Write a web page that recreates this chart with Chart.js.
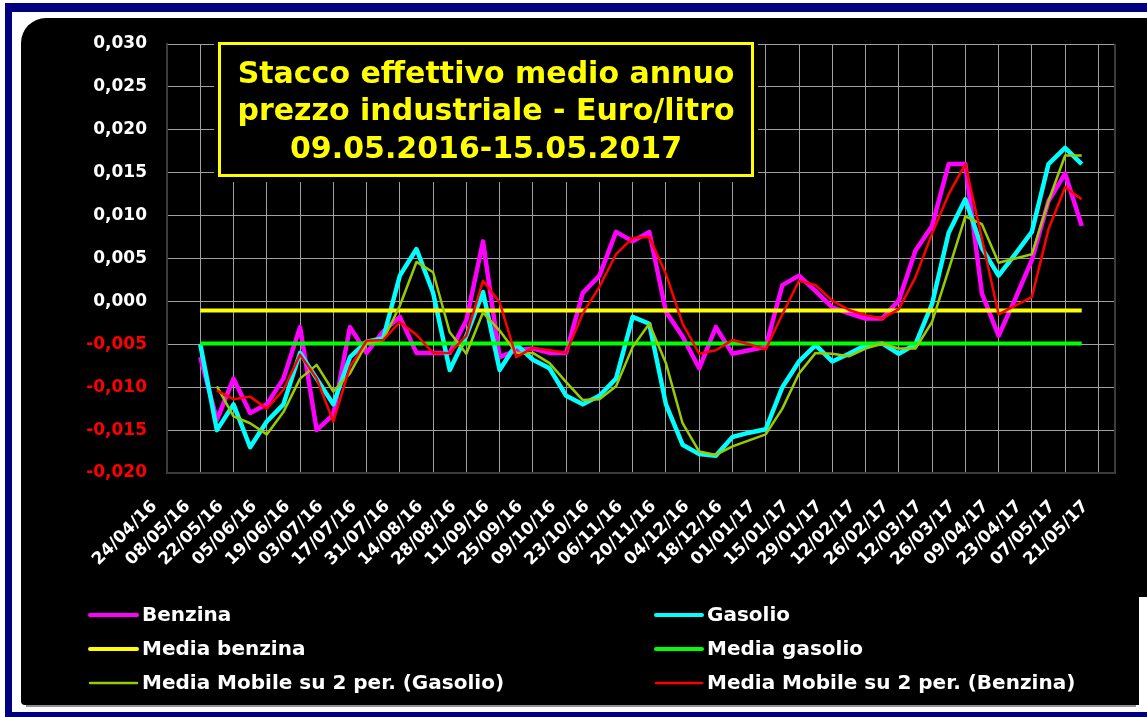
<!DOCTYPE html>
<html>
<head>
<meta charset="utf-8">
<script src="https://cdn.jsdelivr.net/npm/chart.js@4"></script>
<style>
  html, body { margin: 0; padding: 0; background: #fff; }
  canvas { display: block; }
</style>
</head>
<body>
<canvas id="myChart" width="1147" height="717"></canvas>
<script>
// settimane (domenica) sull'asse x, 24/04/16 .. 28/05/17
const weeks = [
  "24/04/16", "01/05/16", "08/05/16", "15/05/16", "22/05/16", "29/05/16",
  "05/06/16", "12/06/16", "19/06/16", "26/06/16", "03/07/16", "10/07/16",
  "17/07/16", "24/07/16", "31/07/16", "07/08/16", "14/08/16", "21/08/16",
  "28/08/16", "04/09/16", "11/09/16", "18/09/16", "25/09/16", "02/10/16",
  "09/10/16", "16/10/16", "23/10/16", "30/10/16", "06/11/16", "13/11/16",
  "20/11/16", "27/11/16", "04/12/16", "11/12/16", "18/12/16", "25/12/16",
  "01/01/17", "08/01/17", "15/01/17", "22/01/17", "29/01/17", "05/02/17",
  "12/02/17", "19/02/17", "26/02/17", "05/03/17", "12/03/17", "19/03/17",
  "26/03/17", "02/04/17", "09/04/17", "16/04/17", "23/04/17", "30/04/17",
  "07/05/17", "14/05/17", "21/05/17", "28/05/17"
];
// i dati partono dalla settimana 08/05/16 (indice 2)
const firstWeek = 2;

const benzina = [
  -0.0065, -0.0138, -0.0090, -0.0130, -0.0120, -0.0090, -0.0030, -0.0150, -0.0132, -0.0030,
  -0.0060, -0.0035, -0.0018, -0.0060, -0.0060, -0.0060, -0.0022, 0.0070, -0.0065, -0.0057,
  -0.0055, -0.0060, -0.0060, 0.0010, 0.0030, 0.0081, 0.0070, 0.0081, -0.0012, -0.0041,
  -0.0078, -0.0030, -0.0061, -0.0057, -0.0053, 0.0019, 0.0030, 0.0012, -0.0007, -0.0014,
  -0.0020, -0.0020, 0.0001, 0.0059, 0.0088, 0.0160, 0.0160, 0.0009, -0.0040, 0.0003,
  0.0048, 0.0117, 0.0149, 0.0088
];
const gasolio = [
  -0.0050, -0.0150, -0.0120, -0.0170, -0.0140, -0.0120, -0.0060, -0.0090, -0.0120, -0.0065,
  -0.0047, -0.0043, 0.0030, 0.0061, 0.0010, -0.0080, -0.0040, 0.0011, -0.0080, -0.0050,
  -0.0068, -0.0078, -0.0110, -0.0120, -0.0110, -0.0090, -0.0018, -0.0026, -0.0120, -0.0167,
  -0.0178, -0.0180, -0.0158, -0.0153, -0.0149, -0.0100, -0.0070, -0.0051, -0.0070, -0.0061,
  -0.0051, -0.0049, -0.0061, -0.0050, -0.0003, 0.0080, 0.0119, 0.0062, 0.0030, 0.0055,
  0.0081, 0.0160, 0.0179, 0.0160
];
const mmGasolio = [
  null, -0.0099, -0.0134, -0.0142, -0.0155, -0.0129, -0.0090, -0.0074, -0.0105, -0.0084,
  -0.0049, -0.0045, -0.0005, 0.0046, 0.0034, -0.0036, -0.0061, -0.0013, -0.0034, -0.0060,
  -0.0060, -0.0072, -0.0094, -0.0115, -0.0114, -0.0099, -0.0053, -0.0026, -0.0072, -0.0142,
  -0.0175, -0.0179, -0.0169, -0.0162, -0.0155, -0.0125, -0.0084, -0.0060, -0.0061, -0.0064,
  -0.0055, -0.0049, -0.0055, -0.0055, -0.0024, 0.0037, 0.0099, 0.0090, 0.0045, 0.0050,
  0.0055, 0.0117, 0.0170, 0.0170
];
const mmBenzina = [
  null, -0.0104, -0.0114, -0.0111, -0.0125, -0.0103, -0.0062, -0.0090, -0.0140, -0.0076,
  -0.0046, -0.0045, -0.0024, -0.0039, -0.0060, -0.0060, -0.0040, 0.0024, -0.0001, -0.0065,
  -0.0054, -0.0057, -0.0060, -0.0014, 0.0017, 0.0055, 0.0074, 0.0075, 0.0032, -0.0026,
  -0.0061, -0.0057, -0.0045, -0.0050, -0.0056, -0.0015, 0.0024, 0.0019, 0.0001, -0.0010,
  -0.0016, -0.0020, -0.0009, 0.0028, 0.0079, 0.0125, 0.0160, 0.0073, -0.0015, -0.0005,
  0.0005, 0.0084, 0.0133, 0.0119
];
// medie annue: inizio e fine del periodo
const mediaBenzina = [-0.00105, -0.00105];
const mediaGasolio = [-0.0049, -0.0049];

const titleLines = [
  "Stacco effettivo medio annuo",
  "prezzo industriale - Euro/litro",
  "09.05.2016-15.05.2017"
];
const legendOrder = [
  "Benzina", "Gasolio",
  "Media benzina", "Media gasolio",
  "Media Mobile su 2 per. (Gasolio)", "Media Mobile su 2 per. (Benzina)"
];

const FONT = '"DejaVu Sans", Verdana, sans-serif';
const lastWeek = firstWeek + benzina.length - 1;

function weekly(values) {
  return [null, null].concat(values);
}
function flat(values) {
  return [
    { x: weeks[firstWeek], y: values[0] },
    { x: weeks[lastWeek], y: values[1] }
  ];
}

const background = {
  id: 'background',
  beforeDraw(chart) {
    const ctx = chart.ctx;
    ctx.save();
    ctx.fillStyle = '#ffffff';
    ctx.fillRect(0, 0, chart.width, chart.height);
    ctx.fillStyle = '#000080';
    ctx.fillRect(5, 3, chart.width - 5, 9);
    ctx.fillRect(5, 3, 7, chart.height - 3);
    ctx.fillRect(5, 712, chart.width - 5, 5);
    ctx.fillStyle = '#909090';
    ctx.fillRect(26, 705, 1110, 2);
    ctx.fillStyle = '#000000';
    ctx.beginPath();
    ctx.roundRect(21, 18, 1160, 687, [25, 0, 0, 4]);
    ctx.fill();
    ctx.fillStyle = '#ffffff';
    ctx.fillRect(1139, 597, 8, 115);
    ctx.restore();
  }
};

const overlay = {
  id: 'overlay',
  afterDraw(chart) {
    const ctx = chart.ctx;
    const area = chart.chartArea;
    ctx.save();
    // bordo destro dell'area
    ctx.strokeStyle = '#3c3c3c';
    ctx.lineWidth = 2;
    ctx.beginPath();
    ctx.moveTo(area.right, area.top);
    ctx.lineTo(area.right, area.bottom);
    ctx.stroke();

    // riquadro titolo
    ctx.fillStyle = '#000000';
    ctx.fillRect(214, 37, 544, 145);
    ctx.strokeStyle = '#ffff00';
    ctx.lineWidth = 3;
    ctx.strokeRect(219.5, 43.5, 533, 132);
    ctx.fillStyle = '#ffff00';
    ctx.font = 'bold 30px ' + FONT;
    ctx.textAlign = 'center';
    ctx.textBaseline = 'alphabetic';
    const baselines = [83, 120, 158];
    titleLines.forEach((t, k) => ctx.fillText(t, 486, baselines[k]));

    // legenda su due colonne
    ctx.font = 'bold 20px ' + FONT;
    ctx.textAlign = 'left';
    ctx.textBaseline = 'middle';
    const cols = [{ x0: 90, x1: 137, tx: 142 }, { x0: 656, x1: 702, tx: 707 }];
    const rows = [615, 649, 683];
    legendOrder.forEach((label, k) => {
      const ds = chart.data.datasets.find(d => d.label === label);
      const c = cols[k % 2];
      const y = rows[Math.floor(k / 2)];
      ctx.strokeStyle = ds.borderColor;
      ctx.lineWidth = Math.min(ds.borderWidth, 4);
      ctx.lineCap = 'round';
      ctx.beginPath();
      ctx.moveTo(c.x0, y);
      ctx.lineTo(c.x1, y);
      ctx.stroke();
      ctx.fillStyle = '#ffffff';
      ctx.fillText(label, c.tx, y + 1);
    });
    ctx.restore();
  }
};

const data = {
  labels: weeks,
  datasets: [
    { label: "Benzina", data: weekly(benzina), borderColor: '#ff00ff', borderWidth: 4.5, order: 6 },
    { label: "Gasolio", data: weekly(gasolio), borderColor: '#00ffff', borderWidth: 4.5, order: 5 },
    { label: "Media benzina", data: flat(mediaBenzina), borderColor: '#ffff00', borderWidth: 4, order: 4 },
    { label: "Media gasolio", data: flat(mediaGasolio), borderColor: '#00ff00', borderWidth: 4, order: 3 },
    { label: "Media Mobile su 2 per. (Gasolio)", data: weekly(mmGasolio), borderColor: '#99cc00', borderWidth: 2.5, order: 2 },
    { label: "Media Mobile su 2 per. (Benzina)", data: weekly(mmBenzina), borderColor: '#ff0000', borderWidth: 2.5, order: 1 }
  ]
};
data.datasets.forEach(d => {
  d.fill = false;
  d.tension = 0;
  d.pointRadius = 0;
  d.borderJoinStyle = 'round';
  d.spanGaps = false;
});

const config = {
  type: 'line',
  data: data,
  plugins: [background, overlay],
  options: {
    responsive: false,
    animation: false,
    layout: { padding: { left: 30, right: 32, top: 44, bottom: 134 } },
    plugins: {
      legend: { display: false },
      tooltip: { enabled: false }
    },
    scales: {
      x: {
        type: 'category',
        grid: {
          color: ctx => (ctx.index % 2 === 0 ? '#a0a0a0' : 'rgba(0,0,0,0)'),
          lineWidth: 1,
          drawTicks: false
        },
        border: { color: '#3c3c3c', width: 2 },
        ticks: {
          autoSkip: false,
          minRotation: 45,
          maxRotation: 45,
          padding: 11,
          color: '#ffffff',
          font: { family: FONT, weight: 'bold', size: 17 },
          // gli spazi finali spostano l'etichetta lungo la diagonale, come nell'originale
          callback: function (value, index) {
            return index % 2 === 0 ? this.getLabelForValue(value) + '   ' : '';
          }
        },
        afterFit: scale => { scale.height = 110; }
      },
      y: {
        min: -0.02,
        max: 0.03,
        grid: { color: '#a0a0a0', lineWidth: 1, drawTicks: false },
        border: { color: '#3c3c3c', width: 2 },
        ticks: {
          stepSize: 0.005,
          padding: 20,
          color: ctx => (ctx.tick.value < -1e-9 ? '#ff0000' : '#ffffff'),
          font: { family: FONT, weight: 'bold', size: 17 },
          callback: v => (Math.abs(v) < 1e-9 ? 0 : v).toFixed(3).replace('.', ',')
        },
        afterFit: scale => { scale.width = 137; }
      }
    }
  }
};

const myChart = new Chart(document.getElementById('myChart'), config);
</script>
</body>
</html>
